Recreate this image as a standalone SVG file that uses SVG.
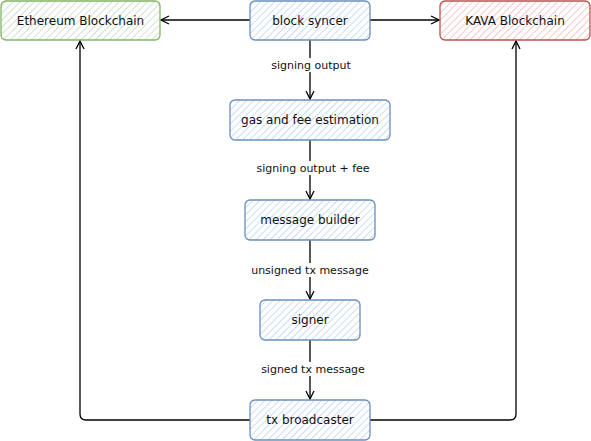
<svg xmlns="http://www.w3.org/2000/svg" width="591" height="441" viewBox="0 0 591 441">
<defs>
<pattern id="hb" patternUnits="userSpaceOnUse" width="5" height="5" patternTransform="rotate(45)">
<rect width="5" height="5" fill="#ffffff"/><line x1="0" y1="0" x2="0" y2="5" stroke="#c9dcf5" stroke-width="2"/>
</pattern>
<pattern id="hg" patternUnits="userSpaceOnUse" width="5" height="5" patternTransform="rotate(45)">
<rect width="5" height="5" fill="#ffffff"/><line x1="0" y1="0" x2="0" y2="5" stroke="#cfe3cc" stroke-width="2"/>
</pattern>
<pattern id="hr" patternUnits="userSpaceOnUse" width="5" height="5" patternTransform="rotate(45)">
<rect width="5" height="5" fill="#ffffff"/><line x1="0" y1="0" x2="0" y2="5" stroke="#f5c8c6" stroke-width="2"/>
</pattern>
<marker id="arr" viewBox="0 0 10 10" refX="9" refY="5" markerWidth="10" markerHeight="10" markerUnits="userSpaceOnUse" orient="auto">
<path d="M1,1 L9,5 L1,9" fill="none" stroke="#000" stroke-width="1.3"/>
</marker>
</defs>
<style>
.nb{fill:url(#hb);stroke:#6c8ebf;stroke-width:1.3}
.ng{fill:url(#hg);stroke:#82b366;stroke-width:1.3}
.nr{fill:url(#hr);stroke:#b85450;stroke-width:1.3}
.t{font-family:"DejaVu Sans",sans-serif;font-size:12px;fill:#111;text-anchor:middle;dominant-baseline:central}
.e{fill:none;stroke:#000;stroke-width:1.3;marker-end:url(#arr)}
.lb{fill:#fff}
.el{font-family:"DejaVu Sans",sans-serif;font-size:11px;fill:#111;text-anchor:middle;dominant-baseline:central}
</style>
<g id="connectors">
<path class="e" d="M250,20 L161,20"/>
<path class="e" d="M370,20 L439,20"/>
<path class="e" d="M310,40 L310,99"/>
<path class="e" d="M310,140 L310,199"/>
<path class="e" d="M310,240 L310,299"/>
<path class="e" d="M310,340 L310,399"/>
<path class="e" d="M250,420 L86,420 Q80,420 80,414 L80,41"/>
<path class="e" d="M370,420 L510,420 Q516,420 516,414 L516,41"/>
<rect class="lb" x="270" y="58" width="82" height="14"/>
<text class="el" x="311" y="65">signing output</text>
<rect class="lb" x="255" y="161" width="116" height="14"/>
<text class="el" x="313" y="168">signing output + fee</text>
<rect class="lb" x="251" y="263" width="118" height="14"/>
<text class="el" x="310" y="270">unsigned tx message</text>
<rect class="lb" x="260" y="362" width="106" height="14"/>
<text class="el" x="313" y="369">signed tx message</text>
</g>
<g id="ethereum"><rect class="ng" x="1" y="1" width="159" height="39" rx="5"/><text class="t" x="80.5" y="20.5">Ethereum Blockchain</text></g>
<g id="block-syncer"><rect class="nb" x="250" y="1" width="120" height="39" rx="5"/><text class="t" x="310" y="20.5">block syncer</text></g>
<g id="kava"><rect class="nr" x="440" y="1" width="150" height="39" rx="5"/><text class="t" x="515" y="20.5">KAVA Blockchain</text></g>
<g id="gas"><rect class="nb" x="230" y="100" width="160" height="40" rx="5"/><text class="t" x="310" y="120">gas and fee estimation</text></g>
<g id="message-builder"><rect class="nb" x="245" y="200" width="130" height="40" rx="5"/><text class="t" x="310" y="220">message builder</text></g>
<g id="signer"><rect class="nb" x="260" y="300" width="100" height="40" rx="5"/><text class="t" x="310" y="320">signer</text></g>
<g id="tx-broadcaster"><rect class="nb" x="250" y="400" width="120" height="40" rx="5"/><text class="t" x="310" y="420">tx broadcaster</text></g>
</svg>
